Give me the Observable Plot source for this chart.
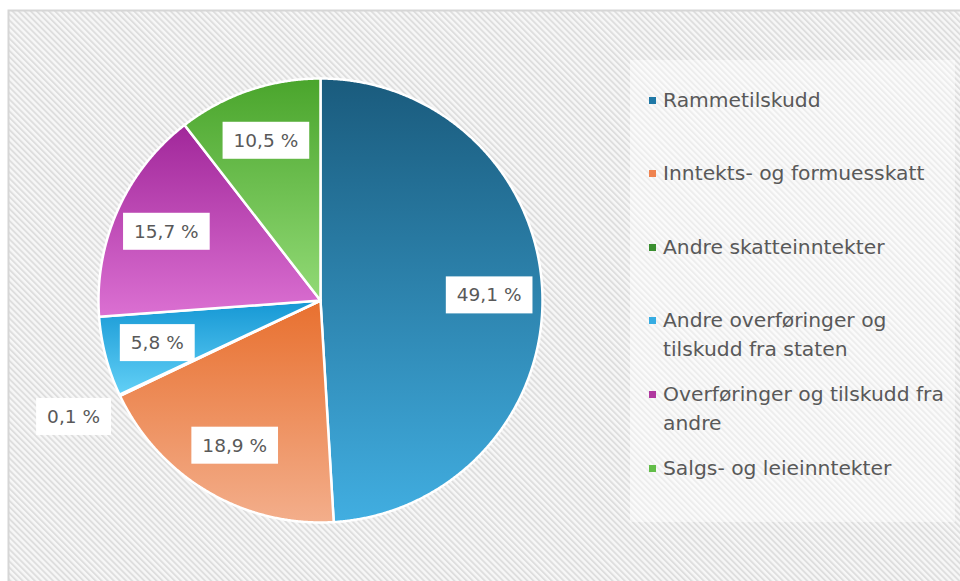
<!DOCTYPE html>
<html><head><meta charset="utf-8">
<script src="https://cdn.jsdelivr.net/npm/d3@7"></script>
<script src="https://cdn.jsdelivr.net/npm/@observablehq/plot@0.6"></script>
<style>
body{margin:0;background:#fff;}
#wrap{position:relative;width:960px;height:581px;overflow:hidden;}
#wrap svg{position:absolute;left:0;top:0;}
#legend{position:absolute;left:630px;top:60px;width:325px;height:462px;background:rgba(255,255,255,0.45);font-family:"DejaVu Sans",sans-serif;}
.item{position:absolute;left:33px;width:290px;font-size:20.3px;line-height:29px;color:#595959;}
.sw{position:absolute;left:-14px;top:11px;width:7px;height:7px;}
</style></head><body><div id="wrap"></div>
<script>
// ---- data ----
const categories = [
  "Rammetilskudd",
  "Inntekts- og formuesskatt",
  "Andre skatteinntekter",
  "Andre overføringer og tilskudd fra staten",
  "Overføringer og tilskudd fra andre",
  "Salgs- og leieinntekter"
];
const shares = [49.1, 18.9, 0.1, 5.8, 15.7, 10.5];
const shareLabels = ["49,1 %", "18,9 %", "0,1 %", "5,8 %", "15,7 %", "10,5 %"];

// ---- styles ----
const gradTop    = ["#1a5b7d", "#e8702f", "#3b8a2a", "#1597d4", "#a1279a", "#4aa52c"];
const gradBottom = ["#41aee1", "#f3ae8b", "#62b64a", "#62d0f6", "#db70d2", "#92da76"];
const legendColors = ["#1f78a6", "#ef8350", "#3a8f30", "#36ace2", "#b0389f", "#62bd48"];

const W = 960, H = 581, R = 222, CX = 320, CY = 300;

const arcs = d3.pie().sort(null).value(d => d)(shares);
const slices = arcs.map((a, i) => {
  const n = Math.max(2, Math.ceil((a.endAngle - a.startAngle) / 0.005));
  const pts = [{x: 0, y: 0}];
  for (let k = 0; k <= n; k++) {
    const t = a.startAngle + (a.endAngle - a.startAngle) * k / n;
    pts.push({x: Math.sin(t), y: -Math.cos(t)});
  }
  pts.push({x: 0, y: 0});
  return pts;
});
const labelData = arcs.map((a, i) => {
  const m = (a.startAngle + a.endAngle) / 2;
  const r = shares[i] < 1 ? 1.23 : 0.76;
  return {x: r * Math.sin(m), y: -r * Math.cos(m), text: shareLabels[i]};
});

const plot = Plot.plot({
  width: W, height: H, margin: 0,
  x: {domain: [-CX / R, (W - CX) / R], range: [0, W], axis: null},
  y: {domain: [-CY / R, (H - CY) / R], range: [0, H], axis: null},
  style: {background: "white", overflow: "hidden"},
  marks: [
    Plot.frame({fill: "url(#hatch)", stroke: "#d6d6d6", strokeWidth: 2, insetLeft: 8, insetTop: 10, insetRight: -6, insetBottom: -6}),
    ...slices.map((pts, i) => Plot.line(pts, {
      x: "x", y: "y", fill: `url(#grad${i})`, stroke: "white", strokeWidth: 2.5, strokeLinejoin: "round"
    })),
    Plot.text(labelData, {
      x: "x", y: "y", text: "text", fontSize: 18.5, fill: "#595959", lineAnchor: "middle",
      fontFamily: "DejaVu Sans", className: "lbl"
    })
  ]
});

// defs: hatch pattern and gradients
const svg = d3.select(plot);
const defs = svg.insert("defs", ":first-child");
const pat = defs.append("pattern").attr("id", "hatch").attr("patternUnits", "userSpaceOnUse")
  .attr("width", 4.3).attr("height", 4.3).attr("patternTransform", "rotate(-45)");
pat.append("rect").attr("width", 4.3).attr("height", 4.3).attr("fill", "#f7f7f7");
pat.append("rect").attr("width", 1.9).attr("height", 4.3).attr("fill", "#dedede");
gradTop.forEach((c, i) => {
  const g = defs.append("linearGradient").attr("id", `grad${i}`)
    .attr("x1", 0).attr("y1", 0).attr("x2", 0).attr("y2", 1);
  g.append("stop").attr("offset", "0%").attr("stop-color", c);
  g.append("stop").attr("offset", "100%").attr("stop-color", gradBottom[i]);
});

const wrap = document.getElementById("wrap");
wrap.append(plot);

// white boxes behind labels
svg.selectAll(".lbl text").each(function () {
  const b = this.getBBox();
  const ph = (37 - b.height) / 2;
  d3.select(this.parentNode).insert("rect", () => this)
    .attr("transform", this.getAttribute("transform"))
    .attr("x", b.x - 11).attr("y", b.y - ph)
    .attr("width", b.width + 22).attr("height", b.height + 2 * ph)
    .attr("fill", "white");
});

// legend
const legend = document.createElement("div");
legend.id = "legend";
categories.forEach((c, i) => {
  const it = document.createElement("div");
  it.className = "item";
  it.style.top = (25.5 + i * 73.6) + "px";
  const sw = document.createElement("div");
  sw.className = "sw";
  sw.style.background = legendColors[i];
  it.append(sw);
  it.append(document.createTextNode(c));
  legend.append(it);
});
wrap.append(legend);
</script></body></html>
